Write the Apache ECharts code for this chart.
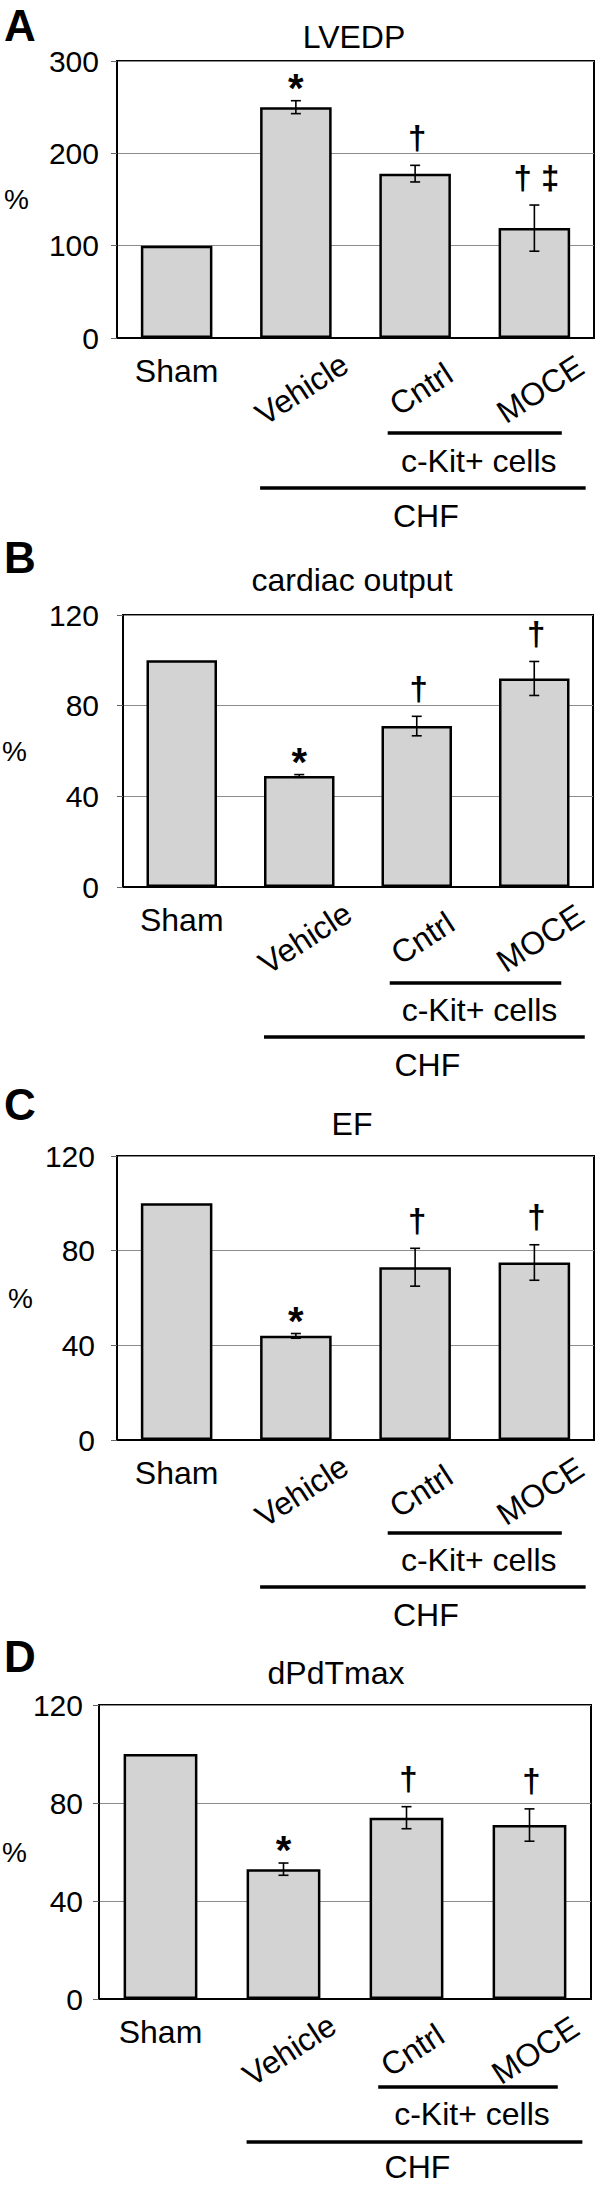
<!DOCTYPE html>
<html>
<head>
<meta charset="utf-8">
<script src="https://cdn.jsdelivr.net/npm/echarts@6/dist/echarts.min.js"></script>
<style>
html, body { margin: 0; padding: 0; background: #fff; }
#chart { width: 606px; height: 2186px; }
</style>
</head>
<body>
<div id="chart"></div>
<script>
const categories = ['Sham', 'Vehicle', 'Cntrl', 'MOCE'];
const groupCells = 'c-Kit+ cells';
const groupChf = 'CHF';

const lvedpMean = [100, 250, 178, 119];
const lvedpErr = [0, 7, 9, 25];
const lvedpMarks = ['', '*', '†', '† ‡'];
const lvedpTicks = [0, 100, 200, 300];

const coMean = [100, 49, 71, 92];
const coErr = [0, 0.6, 4.3, 7.5];
const coMarks = ['', '*', '†', '†'];
const coTicks = [0, 40, 80, 120];

const efMean = [100, 44, 73, 75];
const efErr = [0, 1, 8, 7.5];
const efMarks = ['', '*', '†', '†'];
const efTicks = [0, 40, 80, 120];

const dpdtMean = [100, 53, 74, 71];
const dpdtErr = [0, 2.5, 4.5, 6.6];
const dpdtMarks = ['', '*', '†', '†'];
const dpdtTicks = [0, 40, 80, 120];

const panels = [
    { letter: 'A', title: 'LVEDP', mean: lvedpMean, err: lvedpErr, marks: lvedpMarks, ticks: lvedpTicks },
    { letter: 'B', title: 'cardiac output', mean: coMean, err: coErr, marks: coMarks, ticks: coTicks },
    { letter: 'C', title: 'EF', mean: efMean, err: efErr, marks: efMarks, ticks: efTicks },
    { letter: 'D', title: 'dPdTmax', mean: dpdtMean, err: dpdtErr, marks: dpdtMarks, ticks: dpdtTicks }
];

// pixel layout of each panel; br = offsets below the x axis of the bracket lines / texts
const layouts = [
    { left: 117, top: 61, width: 477, height: 277, letterY: 25, titleX: 354, titleY: 37, labelMargin: 18, nameGap: 88, br: [95, 123, 150, 178] },
    { left: 123, top: 615, width: 470, height: 272, letterY: 557, titleX: 352, titleY: 580, labelMargin: 24, nameGap: 96, br: [96, 123, 150, 178] },
    { left: 117, top: 1156, width: 477, height: 284, letterY: 1104, titleX: 352, titleY: 1124, labelMargin: 22, nameGap: 84, br: [93, 120, 147, 175] },
    { left: 99, top: 1705, width: 492, height: 294, letterY: 1656, titleX: 336, titleY: 1673, labelMargin: 16, nameGap: 72, br: [88, 115, 143, 168] }
];

const FONT = '"Liberation Sans", Arial, sans-serif';
const barFill = '#d3d3d3';
const gridGray = '#8c8c8c';

function errorBarRenderer(marks) {
    return function (params, api) {
        const i = api.value(0);
        const mean = api.value(1);
        const err = api.value(2);
        const hi = api.coord([i, mean + err]);
        const lo = api.coord([i, mean - err]);
        const x = hi[0];
        const children = [];
        const st = { stroke: '#000', lineWidth: 1.6 };
        if (err > 0) {
            children.push(
                { type: 'line', shape: { x1: x, y1: hi[1], x2: x, y2: lo[1] }, style: st },
                { type: 'line', shape: { x1: x - 5, y1: hi[1], x2: x + 5, y2: hi[1] }, style: st },
                { type: 'line', shape: { x1: x - 5, y1: lo[1], x2: x + 5, y2: lo[1] }, style: st }
            );
        }
        const mark = marks[i];
        if (mark) {
            const star = mark === '*';
            children.push({
                type: 'text',
                style: {
                    text: mark, x: x + (star ? 0 : 2), y: hi[1] - (star ? 13 : 28),
                    align: 'center', verticalAlign: 'middle',
                    fontSize: star ? 40 : 33, fontWeight: 'bold', fontFamily: FONT, fill: '#000'
                }
            });
        }
        return { type: 'group', children: children };
    };
}

const grids = [], xAxes = [], yAxes = [], series = [];

panels.forEach((p, k) => {
    const L = layouts[k];
    grids.push({
        left: L.left, top: L.top, width: L.width, height: L.height,
        show: true, borderColor: '#000', borderWidth: 2, backgroundColor: 'transparent',
        containLabel: false, outerBoundsMode: 'none'
    });
    // upright label (Sham) + axis line
    xAxes.push({
        type: 'category', gridIndex: k, data: categories, position: 'bottom',
        axisLine: { show: true, lineStyle: { color: '#000', width: 2 } },
        axisTick: { show: false },
        axisLabel: {
            interval: 0, fontSize: 32, fontFamily: FONT, color: '#000',
            margin: 33, verticalAlign: 'middle',
            formatter: v => (v === 'Sham' ? v : '')
        }
    });
    // slanted labels for the CHF groups
    xAxes.push({
        type: 'category', gridIndex: k, data: categories, position: 'bottom',
        axisLine: { show: false }, axisTick: { show: false },
        axisLabel: {
            interval: 0, fontSize: 32, fontFamily: FONT, color: '#000',
            rotate: 33, align: 'center', verticalAlign: 'middle',
            margin: 55, padding: [0, 0, 0, 14],
            formatter: v => (v === 'Sham' ? '' : v)
        }
    });
    const t = p.ticks;
    yAxes.push({
        type: 'value', gridIndex: k,
        min: t[0], max: t[t.length - 1], interval: t[1] - t[0],
        name: '%', nameLocation: 'middle', nameRotate: 0, nameGap: L.nameGap,
        nameMoveOverlap: false,
        nameTextStyle: { fontSize: 28, fontFamily: FONT, color: '#000' },
        axisLine: { show: true, lineStyle: { color: '#000', width: 2 } },
        axisTick: { show: true, length: 6, lineStyle: { color: '#666', width: 1 } },
        axisLabel: { fontSize: 30, fontFamily: FONT, color: '#000', margin: L.labelMargin },
        splitLine: { show: true, lineStyle: { color: gridGray, width: 1 } }
    });
    series.push({
        type: 'bar', xAxisIndex: 2 * k, yAxisIndex: k,
        data: p.mean, barWidth: '60%',
        itemStyle: { color: barFill, borderColor: '#000', borderWidth: 2.5 },
        silent: true, animation: false
    });
    series.push({
        type: 'custom', xAxisIndex: 2 * k, yAxisIndex: k,
        data: categories.map((c, i) => [i, p.mean[i], p.err[i]]),
        encode: { x: 0, y: 1 },
        renderItem: errorBarRenderer(p.marks),
        z: 5, silent: true, animation: false
    });
});

const chart = echarts.init(document.getElementById('chart'), null, { renderer: 'svg' });
chart.setOption({
    animation: false,
    backgroundColor: '#fff',
    grid: grids,
    xAxis: xAxes,
    yAxis: yAxes,
    series: series
});

// panel letters, titles and group brackets
const graphics = [];
panels.forEach((p, k) => {
    const L = layouts[k];
    graphics.push({
        type: 'text', x: 4, y: L.letterY,
        style: { text: p.letter, fontSize: 44, fontWeight: 'bold', fontFamily: FONT, fill: '#000', verticalAlign: 'middle' }
    });
    graphics.push({
        type: 'text', x: L.titleX, y: L.titleY,
        style: { text: p.title, fontSize: 32, fontFamily: FONT, fill: '#000', align: 'center', verticalAlign: 'middle' }
    });
    const px = i => chart.convertToPixel({ gridIndex: k }, [i, 0]);
    const axisY = px(0)[1];
    const catW = L.width / categories.length;
    const c1 = px(1)[0], c2 = px(2)[0], c3 = px(3)[0];
    const cellsX1 = c2 - 0.23 * catW, cellsX2 = c3 + 0.23 * catW;
    const chfX1 = c1 - 0.3 * catW, chfX2 = c3 + 0.43 * catW;
    const br = L.br;
    graphics.push({
        type: 'line', shape: { x1: cellsX1, y1: axisY + br[0], x2: cellsX2, y2: axisY + br[0] },
        style: { stroke: '#000', lineWidth: 3.5 }
    });
    graphics.push({
        type: 'text', x: (cellsX1 + cellsX2) / 2 + 4, y: axisY + br[1],
        style: { text: groupCells, fontSize: 32, fontFamily: FONT, fill: '#000', align: 'center', verticalAlign: 'middle' }
    });
    graphics.push({
        type: 'line', shape: { x1: chfX1, y1: axisY + br[2], x2: chfX2, y2: axisY + br[2] },
        style: { stroke: '#000', lineWidth: 3.5 }
    });
    graphics.push({
        type: 'text', x: (chfX1 + chfX2) / 2 + 3, y: axisY + br[3],
        style: { text: groupChf, fontSize: 32, fontFamily: FONT, fill: '#000', align: 'center', verticalAlign: 'middle' }
    });
});
chart.setOption({ graphic: graphics });
</script>
</body>
</html>
